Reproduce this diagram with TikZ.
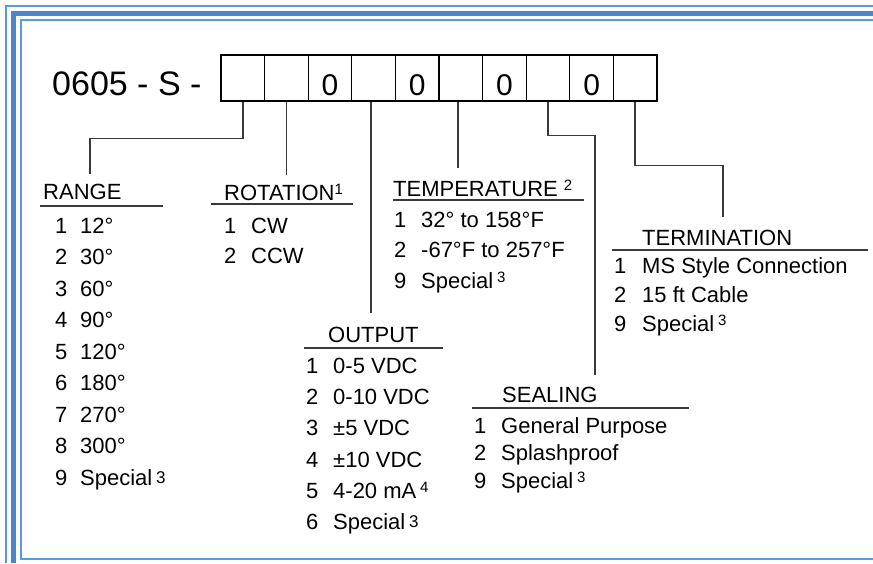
\documentclass[tikz,border=0pt]{standalone}
\usepackage{fontspec}
\setmainfont{Liberation Sans}
\usetikzlibrary{calc}
\definecolor{bthick}{HTML}{4A86C8}
\definecolor{bthin}{HTML}{5B9BD5}
\definecolor{ln}{HTML}{3A3A3A}
\newcommand\supthree{\,\raisebox{6pt}{\fontsize{15}{15}\selectfont 3}}
\newcommand\supfour{\,\raisebox{6pt}{\fontsize{15}{15}\selectfont 4}}
\newcommand\lowthree{\,\raisebox{2pt}{\fontsize{17}{17}\selectfont 3}}
\begin{document}
\begin{tikzpicture}[x=1pt,y=-1pt,
  txt/.style={font=\fontsize{22}{24}\selectfont, inner sep=0pt, anchor=base west},
  boxcell/.style={draw=black, line width=1.3pt, minimum width=43.6pt, minimum height=46pt, inner sep=0pt},
  digit/.style={font=\fontsize{30}{34}\selectfont, inner sep=0pt, anchor=base},
  conn/.style={draw=ln, line width=1.5pt},
  uline/.style={draw=ln, line width=1.5pt}]
\useasboundingbox (0,0) rectangle (873,563);
% border (cut by the picture's right and bottom edges)
\draw[bthin, line width=1.2pt] (873,6) -- (6,6) -- (6,563);
\draw[bthick, line width=5pt] (873,13) -- (13.5,13) -- (13.5,563);
\draw[bthin, line width=1.2pt] (873,20) -- (21,20) -- (21,559) -- (873,559);

% title and code boxes
\node[anchor=base west, font=\fontsize{34}{40}\selectfont, inner sep=0pt] (title) at (52,95) {0605 - S -};
\foreach \i in {1,...,10} \node[boxcell] (b\i) at ({221+43.6*(\i-0.5)},78) {};
\foreach \i in {3,5,7,9} \node[digit] (d\i) at ($(b\i.south)+(0,-6)$) {0};

% connector end points
\coordinate (cRange) at (90,174);
\coordinate (cRot) at (286,175);
\coordinate (cOut) at (371,313);
\coordinate (cTemp) at (458,168);
\coordinate (cSeal) at (595,375);
\coordinate (cTerm) at (723,217);

\draw[conn] (b1.south) -- ++(0,37) -| (cRange);
\draw[conn] (b2.south) -- (b2.south |- cRot);
\draw[conn] (b4.south -| cOut) -- (cOut);
\draw[conn] (b6.south -| cTemp) -- (cTemp);
\draw[conn] (b8.south) -- ++(0,34) -| (cSeal);
\draw[conn] (b10.south) -- ++(0,64) -| (cTerm);

% headings
\node[txt] (hRange) at (43,199) {RANGE};
\draw[uline] (40,206) -- (163,206);
\node[txt] (hRot) at (224,200) {ROTATION\raisebox{6pt}{\fontsize{15}{15}\selectfont 1}};
\draw[uline] (211,204) -- (353,204);
\node[txt] (hTemp) at (393,196) {TEMPERATURE \raisebox{6pt}{\fontsize{15}{15}\selectfont 2}};
\draw[uline] (393,200) -- (584,200);
\node[txt] (hOut) at (328,342) {OUTPUT};
\draw[uline] (304,348) -- (443,348);
\node[txt] (hSeal) at (502,402) {SEALING};
\draw[uline] (472,408) -- (689,408);
\node[txt] (hTerm) at (642,245) {TERMINATION};
\draw[uline] (612,250) -- (868,250);

% RANGE list
\foreach \n/\t/\y [count=\k] in {1/12°/233, 2/30°/264, 3/60°/296, 4/90°/327, 5/120°/359, 6/180°/390, 7/270°/422, 8/300°/453, 9/Special\lowthree/485} {
  \node[txt] (rn\k) at (55,\y) {\n};
  \node[txt] (rt\k) at (80,\y) {\t};
}
% ROTATION list
\foreach \n/\t/\y [count=\k] in {1/CW/233, 2/CCW/263} {
  \node[txt] (on\k) at (224,\y) {\n};
  \node[txt] (ot\k) at (251,\y) {\t};
}
% TEMPERATURE list
\foreach \n/\t/\y [count=\k] in {1/32° to 158°F/227, 2/-67°F to 257°F/257, 9/Special\supthree/288} {
  \node[txt] (tn\k) at (394,\y) {\n};
  \node[txt] (tt\k) at (421,\y) {\t};
}
% OUTPUT list
\foreach \n/\t/\y [count=\k] in {1/0-5 VDC/373, 2/0-10 VDC/404, 3/±5 VDC/435, 4/±10 VDC/467, 5/4-20 mA\supfour/498, 6/Special\lowthree/529} {
  \node[txt] (un\k) at (306,\y) {\n};
  \node[txt] (ut\k) at (333,\y) {\t};
}
% SEALING list
\foreach \n/\t/\y [count=\k] in {1/General Purpose/433, 2/Splashproof/460, 9/Special\supthree/488} {
  \node[txt] (sn\k) at (474,\y) {\n};
  \node[txt] (st\k) at (501,\y) {\t};
}
% TERMINATION list
\foreach \n/\t/\y [count=\k] in {1/MS Style Connection/273, 2/15 ft Cable/302, 9/Special\supthree/331} {
  \node[txt] (en\k) at (614,\y) {\n};
  \node[txt] (et\k) at (642,\y) {\t};
}
\end{tikzpicture}
\end{document}
